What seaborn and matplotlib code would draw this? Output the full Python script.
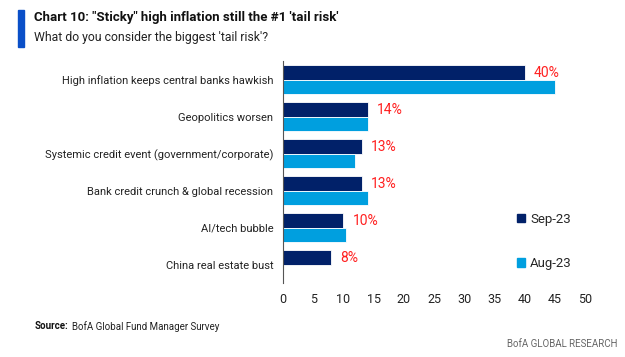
import pandas as pd
import matplotlib.pyplot as plt
import matplotlib.patches as mpatches
import seaborn as sns

# Survey answers (% of respondents)
risks = ['High inflation keeps central banks hawkish', 'Geopolitics worsen',
         'Systemic credit event (government/corporate)', 'Bank credit crunch & global recession',
         'AI/tech bubble', 'China real estate bust']
sep_23 = [40, 14, 13, 13, 10, 8]
aug_23 = [45, 14, 12, 14, 10.5, None]
series = ['Sep-23', 'Aug-23']

colors = {'Sep-23': '#012169', 'Aug-23': '#009FDF'}

df = pd.DataFrame({'risk': risks * 2,
                   'month': ['Sep-23'] * len(risks) + ['Aug-23'] * len(risks),
                   'value': sep_23 + aug_23})

sns.set_style('white')
plt.rcParams['font.family'] = ['Roboto', 'DejaVu Sans']

fig = plt.figure(figsize=(6.25, 3.57), dpi=100)
ax = fig.add_axes([0.4528, 0.207, 0.4832, 0.622])

sns.barplot(data=df, y='risk', x='value', hue='month', hue_order=series,
            palette=colors, orient='h', width=0.78, saturation=1,
            edgecolor='white', linewidth=0.6, ax=ax, legend=False)

ax.set_xlim(0, 50)
ax.set_xticks(range(0, 51, 5))
ax.set_xlabel('')
ax.set_ylabel('')
ax.tick_params(axis='x', labelsize=9, colors='#222222', length=0, pad=7)
ax.tick_params(axis='y', labelsize=8, colors='#222222', length=0, pad=7)
for s in ['top', 'right', 'bottom']:
    ax.spines[s].set_visible(False)
ax.spines['left'].set_color('#555555')
ax.spines['left'].set_linewidth(0.8)

# red labels for the latest month
for i, v in enumerate(sep_23):
    ax.text(v + 1.5, i - 0.17, f'{v}%', color='#FF2020', fontsize=10,
            va='center', ha='left')

handles = [mpatches.Patch(color=colors[m], label=m) for m in series]
fig.legend(handles=handles, loc='upper left', bbox_to_anchor=(0.808, 0.438),
           frameon=False, fontsize=9.5, handlelength=0.6, handleheight=0.6,
           handletextpad=0.4, labelspacing=2.4)

# header
fig.patches.append(mpatches.Rectangle((0.029, 0.867), 0.009, 0.105,
                                      transform=fig.transFigure, color='#0A4FC8'))
fig.text(0.054, 0.952, 'Chart 10: "Sticky" high inflation still the #1 \'tail risk\'',
         fontsize=9.5, fontweight='bold', color='#111111', va='center')
fig.text(0.054, 0.895, "What do you consider the biggest 'tail risk'?",
         fontsize=8.8, color='#222222', va='center')

fig.text(0.056, 0.086, 'Source:', fontsize=7, fontweight='bold', color='#111111', va='center')
fig.text(0.115, 0.086, 'BofA Global Fund Manager Survey', fontsize=7, color='#222222', va='center')
fig.text(0.988, 0.036, 'BofA GLOBAL RESEARCH', fontsize=7, color='#666666',
         va='center', ha='right')

fig.savefig('out.png', dpi=100)
